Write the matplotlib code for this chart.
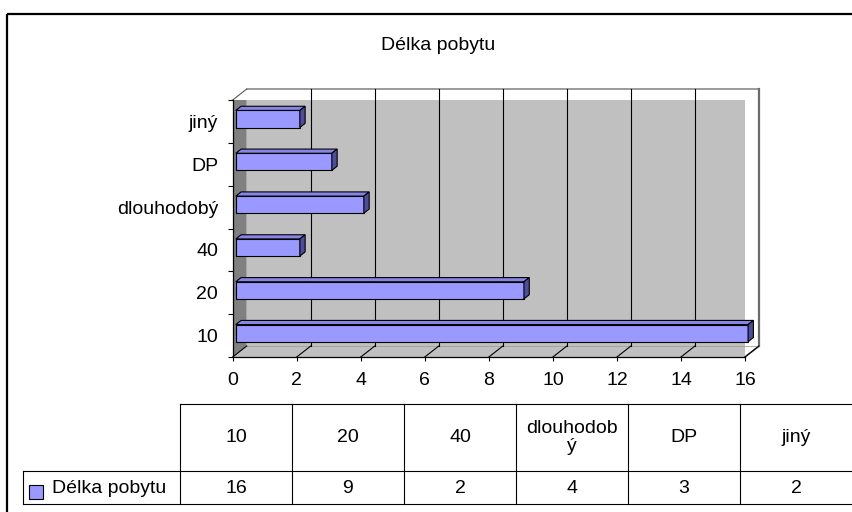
import matplotlib.pyplot as plt
from matplotlib.patches import Rectangle, Polygon
import numpy as np

plt.rcParams['font.family'] = ['Liberation Sans', 'DejaVu Sans']

# data
categories = ['10', '20', '40', 'dlouhodobý', 'DP', 'jiný']
values = [16, 9, 2, 4, 3, 2]
table_headers = ['10', '20', '40', 'dlouhodob\ný', 'DP', 'jiný']
series_name = 'Délka pobytu'
x_ticks = [0, 2, 4, 6, 8, 10, 12, 14, 16]

W, H = 853, 512
FS = 14
bar_color = '#9999ff'

fig = plt.figure(figsize=(W / 100, H / 100), dpi=100)


def px_axes(x0, y0, x1, y1):
    # axes placed by pixel box (y measured from top)
    return fig.add_axes([x0 / W, 1 - y1 / H, (x1 - x0) / W, (y1 - y0) / H])


# background canvas in pixel coordinates (frame, title, data table)
bg = fig.add_axes([0, 0, 1, 1])
bg.set_xlim(0, W)
bg.set_ylim(H, 0)
bg.axis('off')
bg.add_patch(Rectangle((7, 14), 900, 600, fill=False, lw=1.6, ec='black'))
bg.text(438, 45, series_name, ha='center', va='center', fontsize=FS)

# --- 3D-looking bar chart ---
ax = px_axes(232.7, 100, 745, 357)
ax.set_xlim(0, 16)
ax.set_ylim(0, len(categories))
ax.patch.set_visible(False)

DX = 14 / (512.3 / 16)          # depth shift in data units
DY = 11 / (257 / len(categories))
n = len(categories)

# walls and floor
ax.add_patch(Rectangle((DX, DY), 16, n, fc='#c0c0c0', ec='none', zorder=0))
ax.add_patch(Polygon([(0, 0), (DX, DY), (DX, n + DY), (0, n)],
                     closed=True, fc='#808080', ec='none', zorder=0.5))
ax.add_patch(Polygon([(0, 0), (16, 0), (16 + DX, DY), (DX, DY)],
                     closed=True, fc='#c0c0c0', ec='none', zorder=0.5))
ax.plot([DX, 16 + DX], [n + DY, n + DY], color='#8a8a8a', lw=1.2, clip_on=False, zorder=1)
ax.plot([16 + DX, 16 + DX], [DY, n + DY], color='#6b6b6b', lw=1.6, clip_on=False, zorder=1)
ax.plot([16, 16 + DX], [0, DY], color='#6b6b6b', lw=1.2, clip_on=False, zorder=1)
ax.plot([0, DX], [n, n + DY], color='#5a5a5a', lw=0.8, clip_on=False, zorder=1)
ax.plot([DX, 16 + DX], [DY, DY], color='#a0a0a0', lw=0.6, clip_on=False, zorder=1)

# gridlines on back wall and floor
for xv in x_ticks:
    if 0 < xv < 16:
        ax.plot([xv + DX, xv + DX], [DY, n + DY], color='black', lw=0.8, clip_on=False, zorder=1)
    ax.plot([xv, xv + DX], [0, DY], color='black', lw=0.8, clip_on=False, zorder=1)

# bars
F1, F2 = 0.22, 0.6
bh = 0.4
pos = np.arange(n) + 0.5
ax.barh(pos + F1 * DY, values, height=bh, left=F1 * DX, color=bar_color,
        edgecolor='black', lw=0.8, zorder=3, clip_on=False)
ddx, ddy = (F2 - F1) * DX, (F2 - F1) * DY
for p, v in zip(pos, values):
    l = F1 * DX
    b = p + F1 * DY - bh / 2
    t = b + bh
    ax.add_patch(Polygon([(l, t), (l + v, t), (l + v + ddx, t + ddy), (l + ddx, t + ddy)],
                         closed=True, fc='#8585e6', ec='black', lw=0.8, zorder=3, clip_on=False))
    ax.add_patch(Polygon([(l + v, b), (l + v + ddx, b + ddy), (l + v + ddx, t + ddy), (l + v, t)],
                         closed=True, fc='#4d4d99', ec='black', lw=0.8, zorder=3, clip_on=False))

# axes, ticks
for s in ['top', 'right']:
    ax.spines[s].set_visible(False)
ax.spines['left'].set_linewidth(0.9)
ax.spines['bottom'].set_linewidth(0.9)
ax.spines['left'].set_zorder(2)
ax.spines['bottom'].set_zorder(2)
ax.set_xticks(x_ticks)
ax.set_xticklabels([str(t) for t in x_ticks])
ax.tick_params(axis='x', direction='out', length=3, width=0.8, pad=8, labelsize=FS)
ax.set_yticks(np.arange(n + 1))
ax.set_yticklabels([])
ax.tick_params(axis='y', which='major', direction='out', length=3.5, width=0.8)
ax.set_yticks(pos, minor=True)
ax.set_yticklabels(categories, minor=True)
ax.tick_params(axis='y', which='minor', length=0, pad=10.5, labelsize=FS)

# --- data table ---
col_edges = 180 + 112 * np.arange(len(categories) + 1)
y_top, y_mid, y_bot = 404, 471, 504
leg_left = 23
tc = 'black'
bg.plot([col_edges[0], col_edges[-1]], [y_top, y_top], color=tc, lw=0.8)
bg.plot([leg_left, col_edges[-1]], [y_mid, y_mid], color=tc, lw=0.8)
bg.plot([leg_left, col_edges[-1]], [y_bot, y_bot], color=tc, lw=0.8)
bg.plot([leg_left, leg_left], [y_mid, y_bot], color=tc, lw=0.8)
for xe in col_edges[:-1]:
    bg.plot([xe, xe], [y_top, y_bot], color=tc, lw=0.8)
for i, (hdr, v) in enumerate(zip(table_headers, values)):
    xc = (col_edges[i] + col_edges[i + 1]) / 2
    bg.text(xc, (y_top + y_mid) / 2, hdr, ha='center', va='center',
            fontsize=FS, linespacing=1.1)
    bg.text(xc, (y_mid + y_bot) / 2 + 1, str(v), ha='center', va='center', fontsize=FS)

bg.add_patch(Rectangle((29.3, 485), 14, 14, fc=bar_color, ec='black', lw=0.8))
bg.text(51.7, (y_mid + y_bot) / 2 + 1, series_name, ha='left', va='center', fontsize=FS)

fig.savefig('out.png', dpi=100)
